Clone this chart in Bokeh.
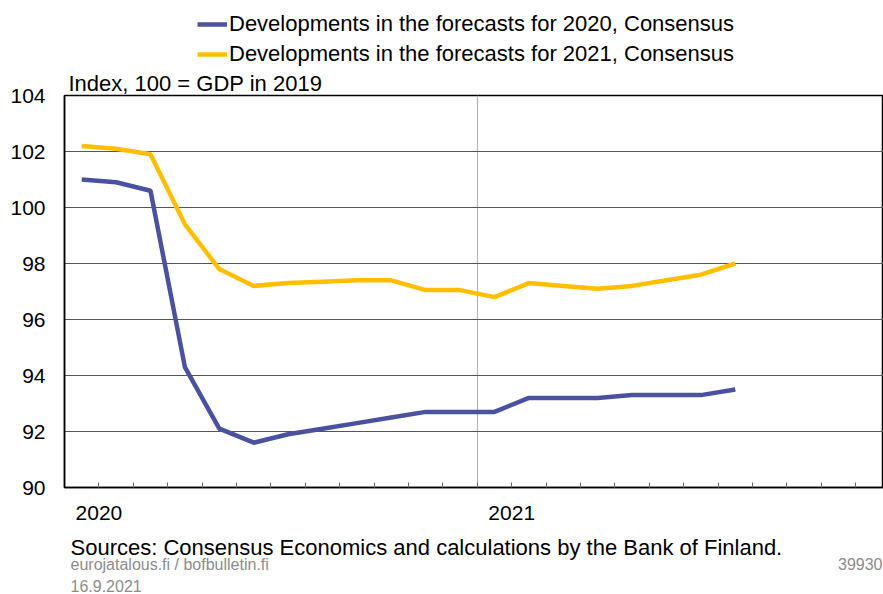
from bokeh.plotting import figure
from bokeh.layouts import column
from bokeh.models import (Range1d, FixedTicker, Legend, LegendItem, ColumnDataSource)
from bokeh.core.properties import value
from bokeh.embed import file_html
from bokeh.resources import INLINE

# ---- data (monthly forecast vintages, Jan 2020 .. Aug 2021) ----
months = ["2020-01", "2020-02", "2020-03", "2020-04", "2020-05", "2020-06",
          "2020-07", "2020-08", "2020-09", "2020-10", "2020-11", "2020-12",
          "2021-01", "2021-02", "2021-03", "2021-04", "2021-05", "2021-06",
          "2021-07", "2021-08"]
forecast_2020 = [101.0, 100.9, 100.6, 94.3, 92.1, 91.6, 91.9, 92.1, 92.3, 92.5,
                 92.7, 92.7, 92.7, 93.2, 93.2, 93.2, 93.3, 93.3, 93.3, 93.5]
forecast_2021 = [102.2, 102.1, 101.9, 99.4, 97.8, 97.2, 97.3, 97.35, 97.4, 97.4,
                 97.05, 97.05, 96.8, 97.3, 97.2, 97.1, 97.2, 97.4, 97.6, 98.0]
series_names = ["Developments in the forecasts for 2020, Consensus",
                "Developments in the forecasts for 2021, Consensus"]
year_labels = ["2020", "2021"]
year_label_month = [1, 13]        # month index where each year label sits
y_ticks = [90, 92, 94, 96, 98, 100, 102, 104]
y_title = "Index, 100 = GDP in 2019"
source_note = "Sources: Consensus Economics and calculations by the Bank of Finland."
footer_left = ["eurojatalous.fi / bofbulletin.fi", "16.9.2021"]
footer_right = "39930"

# month index -> x position at mid-month (0 = start of Jan 2020)
def month_pos(m):
    y, mo = m.split("-")
    return (int(y) - 2020) * 12 + int(mo) - 1 + 0.5

xs = [month_pos(m) for m in months]
src = ColumnDataSource(dict(x=xs, f20=forecast_2020, f21=forecast_2021))

FONT = "Liberation Sans"
BLUE = "#4A52A0"
YELLOW = "#FFBF00"
GREY = "#8c8c8c"
LW = 4.5

W, H = 883, 594
FL, FT, FB = 64, 95, 487          # chart frame left / top / bottom on page
MW = 34.4                          # pixels per month
FW = W - FL
FH = FB - FT
TITLE_B = 27                       # border above chart frame (holds y title)
HEAD_H = FT - TITLE_B              # header strip: legend
MAIN_B = 13                        # border below chart frame
FOOT_TOP = FB + MAIN_B
FOOT_H = H - FOOT_TOP
X_END = FW / MW


def strip(h, y0):
    f = figure(width=W, height=h, output_backend="svg", toolbar_location=None,
               x_range=Range1d(FL, W), y_range=Range1d(y0 + h, y0),
               x_axis_type=None, y_axis_type=None,
               min_border_left=FL, min_border_right=0,
               min_border_top=0, min_border_bottom=0,
               frame_width=FW, frame_height=h)
    f.outline_line_color = None
    f.grid.visible = False
    f.background_fill_color = "white"
    f.border_fill_color = "white"
    return f

# ---------------- header: legend ----------------
head = strip(HEAD_H, 0)
# legend-only renderers (their single point lies outside the strip)
d20 = head.line([FL], [-50], line_color=BLUE, line_width=LW)
d21 = head.line([FL], [-50], line_color=YELLOW, line_width=LW)
legend = Legend(items=[LegendItem(label=series_names[0], renderers=[d20]),
                       LegendItem(label=series_names[1], renderers=[d21])],
                location=(197 - FL, 1),
                label_text_font=FONT, label_text_font_size="22px",
                label_text_color="black",
                glyph_width=30, glyph_height=20, label_standoff=2,
                spacing=4, padding=0, margin=0,
                border_line_color=None, background_fill_alpha=0)
head.add_layout(legend, "center")

# ---------------- main chart ----------------
p = figure(width=W, height=TITLE_B + FH + MAIN_B, output_backend="svg",
           toolbar_location=None, title=y_title,
           x_range=Range1d(0, X_END), y_range=Range1d(90, 104),
           min_border_left=FL, min_border_top=TITLE_B,
           min_border_bottom=MAIN_B, min_border_right=0,
           frame_width=FW, frame_height=FH)
p.title.align = "left"
p.title.offset = 4
p.title.standoff = 0
p.title.text_font = FONT
p.title.text_font_size = "22px"
p.title.text_font_style = "normal"
p.title.text_color = "black"
p.outline_line_color = "black"
p.outline_line_width = 1.5
p.background_fill_color = "white"
p.border_fill_color = "white"

p.line("x", "f20", source=src, line_color=BLUE, line_width=LW)
p.line("x", "f21", source=src, line_color=YELLOW, line_width=LW)

xa = p.xaxis[0]
xa.ticker = FixedTicker(ticks=[], minor_ticks=list(range(1, 24)))
xa.major_tick_in = 0
xa.major_tick_out = 0
xa.minor_tick_in = 5
xa.minor_tick_out = 0
xa.minor_tick_line_color = "#666666"
xa.axis_line_color = "black"
xa.axis_line_width = 1.5
xa.major_label_standoff = 0

ya = p.yaxis[0]
ya.ticker = FixedTicker(ticks=y_ticks)
ya.major_tick_line_color = None
ya.minor_tick_line_color = None
ya.major_tick_in = 0
ya.major_tick_out = 0
ya.axis_line_color = "black"
ya.axis_line_width = 1.5
ya.major_label_text_font = FONT
ya.major_label_text_font_size = "21px"
ya.major_label_text_color = "black"
ya.major_label_standoff = 19

p.ygrid.ticker = FixedTicker(ticks=y_ticks[1:-1])
p.ygrid.grid_line_color = "#555555"
p.ygrid.grid_line_width = 1
p.xgrid.ticker = FixedTicker(ticks=[12])
p.xgrid.grid_line_color = "#b4b4b4"
p.xgrid.grid_line_width = 1.2

# ---------------- footer: year labels and notes ----------------
foot = strip(FOOT_H, FOOT_TOP)
foot.extra_x_ranges = {"month": Range1d(0, X_END)}
foot.text(x=year_label_month, y=[512, 512], text=year_labels, x_range_name="month",
          text_font=value(FONT), text_font_size=value("21px"), text_color="black",
          text_baseline="middle", text_align="center")
foot.text(x=[70], y=[547], text=[source_note], text_font=value(FONT),
          text_font_size=value("22px"), text_color="black",
          text_baseline="middle", text_align="left")
foot.text(x=[70, 70], y=[564, 585], text=footer_left, text_font=value(FONT),
          text_font_size=value("16px"), text_color=GREY,
          text_baseline="middle", text_align="left")
foot.text(x=[882], y=[563], text=[footer_right], text_font=value(FONT),
          text_font_size=value("16px"), text_color=GREY,
          text_baseline="middle", text_align="right")

layout = column(head, p, foot, spacing=0)
open("out.html", "w").write(file_html(layout, INLINE))
